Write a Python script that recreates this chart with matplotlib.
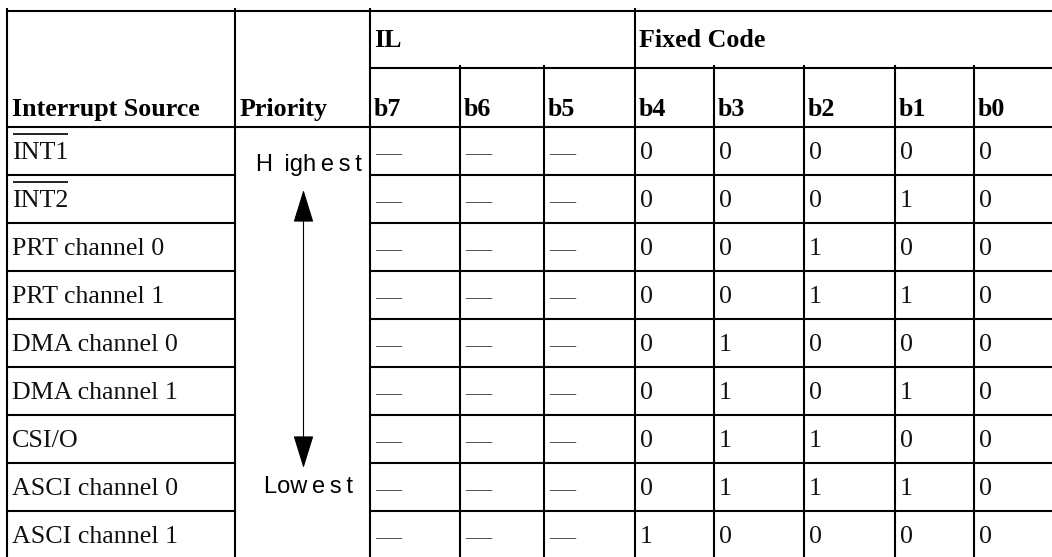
"""Z80180-style interrupt source priority / vector bit table, drawn as a grid."""
import matplotlib
matplotlib.use("Agg")
import matplotlib.pyplot as plt
from matplotlib.patches import FancyArrowPatch

plt.rcParams.update({
    "font.family": ["Liberation Serif", "DejaVu Serif"],
})

# ---- table content ----
GROUP_HEADERS = ["IL", "Fixed Code"]
GROUP_SPANS = [3, 5]                      # bit columns under each group header
BIT_LABELS = ["b7", "b6", "b5", "b4", "b3", "b2", "b1", "b0"]
SOURCES = ["INT1", "INT2", "PRT channel 0", "PRT channel 1", "DMA channel 0",
           "DMA channel 1", "CSI/O", "ASCI channel 0", "ASCI channel 1"]
ACTIVE_LOW = [True, True, False, False, False, False, False, False, False]
IL_BITS = [["—", "—", "—"]] * len(SOURCES)
FIXED_CODE = [
    [0, 0, 0, 0, 0],
    [0, 0, 0, 1, 0],
    [0, 0, 1, 0, 0],
    [0, 0, 1, 1, 0],
    [0, 1, 0, 0, 0],
    [0, 1, 0, 1, 0],
    [0, 1, 1, 0, 0],
    [0, 1, 1, 1, 0],
    [1, 0, 0, 0, 0],
]
PRIORITY_TOP = "H\u2009 igh\u2009e\u2009s\u2009t"
PRIORITY_BOTTOM = "Low\u2009e\u2009s\u2009t"

# ---- layout (pixel grid of the page) ----
W, H = 1052, 557
COL_EDGES = [7, 235, 370, 460, 544, 635, 714, 804, 895, 974, 1064]
HEAD_Y = [11, 68, 127]
ROW_H = 48
FS = 18.7
LW = 1.5
PAD = 5


def main():
    fig = plt.figure(figsize=(W / 100, H / 100), dpi=100)
    ax = fig.add_axes([0, 0, 1, 1])
    ax.set_xlim(0, W)
    ax.set_ylim(H, 0)
    ax.axis("off")

    n = len(SOURCES)
    row_top = [HEAD_Y[2] + i * ROW_H for i in range(n + 1)]
    bottom = row_top[-1]
    left, right = COL_EDGES[0], COL_EDGES[-1]
    line = dict(color="black", lw=LW, solid_capstyle="projecting")

    # horizontal rules
    ax.plot([left, right], [HEAD_Y[0]] * 2, **line)
    ax.plot([COL_EDGES[2], right], [HEAD_Y[1]] * 2, **line)
    ax.plot([left, right], [HEAD_Y[2]] * 2, **line)
    for y in row_top[1:]:
        ax.plot([left, COL_EDGES[1]], [y, y], **line)
        ax.plot([COL_EDGES[2], right], [y, y], **line)

    # vertical rules: group boundaries run full height, bit dividers start under group row
    group_idx = [2 + sum(GROUP_SPANS[:k]) for k in range(len(GROUP_SPANS) + 1)]
    for i, x in enumerate(COL_EDGES):
        y0 = HEAD_Y[0] if (i < 3 or i in group_idx) else HEAD_Y[1]
        ax.plot([x, x], [y0 - 2, bottom], **line)

    # headers
    hdr = dict(fontsize=FS, fontweight="bold", va="baseline")
    ax.text(left + PAD, 116, "Interrupt Source", **hdr)
    ax.text(COL_EDGES[1] + PAD, 116, "Priority", **hdr)
    for k, lab in enumerate(GROUP_HEADERS):
        ax.text(COL_EDGES[group_idx[k]] + 4, 47, lab, **hdr)
    for j, lab in enumerate(BIT_LABELS):
        ax.text(COL_EDGES[2 + j] + 4, 116, lab, **hdr)

    # body
    overlined = []
    for i, src in enumerate(SOURCES):
        yb = row_top[i] + ROW_H / 2 + 8
        t = ax.text(left + PAD, yb, src, fontsize=FS, va="baseline", color="#111")
        if ACTIVE_LOW[i]:
            overlined.append((t, yb))
        cells = list(IL_BITS[i]) + [str(v) for v in FIXED_CODE[i]]
        for j, v in enumerate(cells):
            ax.text(COL_EDGES[2 + j] + PAD, yb, v, fontsize=FS, va="baseline",
                    color="#555" if v == "—" else "#111")

    # bars over the active-low signal names, sized to the rendered text
    fig.canvas.draw()
    inv = ax.transData.inverted()
    for t, yb in overlined:
        bb = t.get_window_extent(fig.canvas.get_renderer())
        (x0, _), (x1, _) = inv.transform([[bb.x0, bb.y0], [bb.x1, bb.y1]])
        ax.plot([x0 + 1, x1], [yb - 25, yb - 25], color="#111", lw=1.3,
                solid_capstyle="butt")

    # priority arrow
    xc = (COL_EDGES[1] + COL_EDGES[2]) / 2 + 1
    sans = ["Liberation Sans", "DejaVu Sans"]
    ax.text(xc + 5, row_top[0] + 38, PRIORITY_TOP, fontsize=17, ha="center",
            va="center", family=sans)
    ax.text(xc + 5, row_top[7] + ROW_H / 2, PRIORITY_BOTTOM, fontsize=17, ha="center",
            va="center", family=sans)
    arr = FancyArrowPatch((xc, row_top[1] + 15), (xc, row_top[7] + 5),
                          arrowstyle="<|-|>,head_length=21,head_width=6.5",
                          mutation_scale=1, shrinkA=0, shrinkB=0,
                          color="black", lw=0.8)
    ax.add_patch(arr)

    fig.savefig("out.png", dpi=100)


if __name__ == "__main__":
    main()
